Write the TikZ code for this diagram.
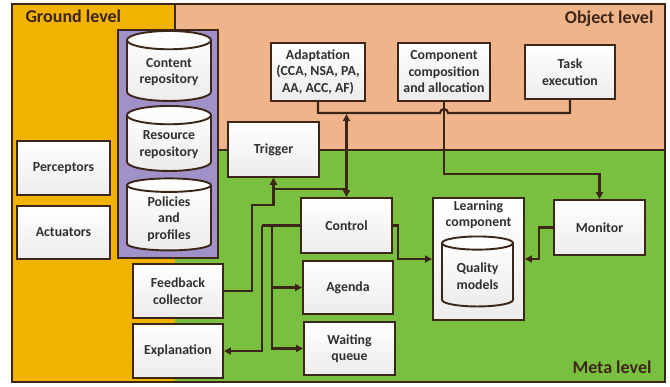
\documentclass[tikz,border=0pt]{standalone}
\usepackage{fontspec}
\setmainfont{Carlito}
\usetikzlibrary{positioning,shapes.geometric,arrows.meta}

\definecolor{groundcol}{RGB}{242,178,0}
\definecolor{objectcol}{RGB}{240,180,138}
\definecolor{metacol}{RGB}{122,192,64}
\definecolor{repocol}{RGB}{160,145,200}
\definecolor{linecol}{RGB}{60,38,24}
\definecolor{textcol}{RGB}{48,48,48}

\begin{document}
\begin{tikzpicture}[x=1pt,y=-1pt,
    every node/.style={font=\bfseries\fontsize{13.8}{16.5}\selectfont, text=textcol, align=center},
    box/.style={draw=linecol, line width=1.9pt, top color=white, bottom color=gray!15, minimum width=91pt, minimum height=55pt, inner sep=1pt},
    repo/.style={cylinder, shape border rotate=90, draw=linecol, line width=1.9pt, top color=white, bottom color=gray!15, aspect=0.3, inner sep=1pt},
    conn/.style={draw=linecol, line width=2.1pt},
    title/.style={font=\bfseries\fontsize{18}{20}\selectfont, text=linecol},
    >={Triangle[length=7pt,width=7pt]}]
    \useasboundingbox (0,0) rectangle (670,386);

    % levels
    \fill[groundcol] (12,4) rectangle (175,382);
    \fill[objectcol] (175,4) rectangle (665,150);
    \fill[metacol] (175,150) rectangle (665,382);
    \draw[linecol, line width=1.6pt] (175,4) -- (175,150) -- (665,150);
    \draw[linecol, line width=1.8pt] (12,4) rectangle (665,382);
    \node[title, anchor=west] (ground) at (22,16) {Ground level};
    \node[title, anchor=east] (object) at (657,19) {Object level};
    \node[title, anchor=east] (meta) at (655,367) {Meta level};

    % ground level
    \node[box, minimum width=93pt, minimum height=54pt] (perc) at (63.5,168) {Perceptors};
    \node[box, minimum width=93pt, minimum height=53pt] (act) at (63.5,232.5) {Actuators};
    \node[draw=linecol, line width=1.9pt, fill=repocol, minimum width=100pt, minimum height=228pt] (repos) at (168,144) {};
    \node[repo, minimum width=84pt, minimum height=70pt] (content) at (169,72) {Content\\repository};
    \node[repo, minimum width=84pt, minimum height=65pt] (resource) at (169,144.5) {Resource\\repository};
    \node[repo, minimum width=84pt, minimum height=72pt] (policies) at (169,219) {Policies\\and\\profiles};

    % object level
    \node[box, minimum width=94pt, minimum height=58pt] (adapt) at (318,72) {Adaptation\\(CCA, NSA, PA,\\AA, ACC, AF)};
    \node[box, minimum width=92pt, minimum height=58pt] (comp) at (444,72) {Component\\composition\\and allocation};
    \node[box, minimum width=90pt, minimum height=54pt] (task) at (570,72) {Task\\execution};

    % meta level
    \node[box] (trig) at (273.5,149.5) {Trigger};
    \node[box] (ctrl) at (346.5,225.5) {Control};
    \node[box, minimum width=90pt, minimum height=53pt] (agenda) at (348,287.5) {Agenda};
    \node[box, minimum height=53pt] (wait) at (349.5,348.5) {Waiting\\queue};
    \node[box, minimum width=90pt, minimum height=54pt] (fb) at (178,291) {Feedback\\collector};
    \node[box, minimum width=90pt, minimum height=54pt] (expl) at (178,351) {Explanation};
    \node[box, minimum height=122pt] (learn) at (478.5,259) {};
    \node[below=0pt of learn.north] (learntitle) {Learning\\component};
    \node[repo, minimum width=71pt, minimum height=70pt] (quality) at (477.5,276) {Quality\\models};
    \node[box] (mon) at (599.5,227.5) {Monitor};

    % connectors
    \coordinate (bus) at (0,113);
    \draw[conn] (adapt.south) |- ([xshift=-4pt]comp.south |- bus) arc[start angle=180, end angle=0, radius=4pt] -| (task.south);
    \draw[conn, <->] (ctrl.north |- 0,114) -- (ctrl.north);
    \draw[conn, ->] (ctrl.north |- 0,189) -| (trig.south);
    \draw[conn, ->] (fb.east) -| (252,205) -| (trig.south);
    \draw[conn] (ctrl.west) -- ++(-38,0) coordinate (split1);
    \coordinate (split2) at ([xshift=-28pt]ctrl.west);
    \draw[conn, ->] (split1) |- (expl.east);
    \draw[conn, ->] (split2) |- (agenda.west);
    \draw[conn, ->] (split2) |- (wait.west);
    \draw[conn, ->] (ctrl.east) -- ++(5,0) |- (learn.west);
    \draw[conn, ->] (mon.west) -- ++(-14,0) |- (learn.east);
    \draw[conn, ->] (comp.south) -- ++(0,72) -| (mon.north);
\end{tikzpicture}
\end{document}
